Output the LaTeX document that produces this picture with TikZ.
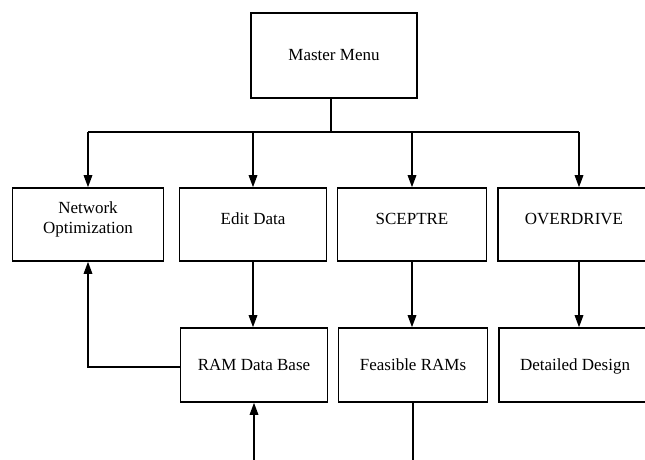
\documentclass[tikz,border=0pt]{standalone}
\usepackage{fontspec}
\setmainfont{Liberation Serif}
\usetikzlibrary{arrows.meta}
\begin{document}
\begin{tikzpicture}[x=1bp,y=-1bp,
  box/.style={draw,line width=1.5bp,inner sep=0pt,rectangle,font=\fontsize{17bp}{20bp}\selectfont},
  midtext/.style={text height=11bp,text depth=0bp},
  hightext/.style={text height=6bp,text depth=6bp},
  conn/.style={line width=1.5bp},
  arr/.style={conn,-{Triangle[length=12bp,width=8.5bp]}}]
\useasboundingbox (0,0) rectangle (645,460);
\clip (0,0) rectangle (645,460);
% boxes
\node[box,midtext,minimum width=166bp,minimum height=85bp] (master) at (334,55.5) {Master Menu};
\node[box,align=center,minimum width=151bp,minimum height=73bp] (net) at (88,224.5) {Network\\Optimization\rule[-13.5bp]{0pt}{0pt}};
\node[box,hightext,minimum width=147bp,minimum height=73bp] (edit) at (253,224.5) {Edit Data};
\node[box,hightext,minimum width=149bp,minimum height=73bp] (sce) at (412,224.5) {SCEPTRE};
\node[box,hightext,minimum width=152bp,minimum height=73bp] (over) at (574,224.5) {OVERDRIVE};
\node[box,midtext,minimum width=147bp,minimum height=74bp] (ram) at (254,365) {RAM Data Base};
\node[box,midtext,minimum width=149bp,minimum height=74bp] (feas) at (413,365) {Feasible RAMs};
\node[box,midtext,minimum width=152bp,minimum height=74bp] (det) at (575,365) {Detailed Design};
% bus
\coordinate (busL) at (88,132);
\coordinate (busR) at (579,132);
\coordinate (stem) at (331,132);
\draw[conn] (stem |- master.south) -- (stem);
\draw[conn] (busL) -- (busR);
\draw[arr] (busL) -- (busL |- net.north);
\draw[arr] (edit.north |- busL) -- (edit.north);
\draw[arr] (sce.north |- busL) -- (sce.north);
\draw[arr] (busR) -- (busR |- over.north);
% second level
\draw[arr] (edit.south) -- (edit.south |- ram.north);
\draw[arr] (sce.south) -- (sce.south |- feas.north);
\draw[arr] (busR |- over.south) -- (busR |- det.north);
\draw[arr] ([yshift=-2bp]ram.west) -| (busL |- net.south);
% bottom
\coordinate (inR) at (254,465);
\coordinate (outF) at (413,465);
\draw[arr] (inR) -- (inR |- ram.south);
\draw[conn] (outF |- feas.south) -- (outF);
\end{tikzpicture}
\end{document}
